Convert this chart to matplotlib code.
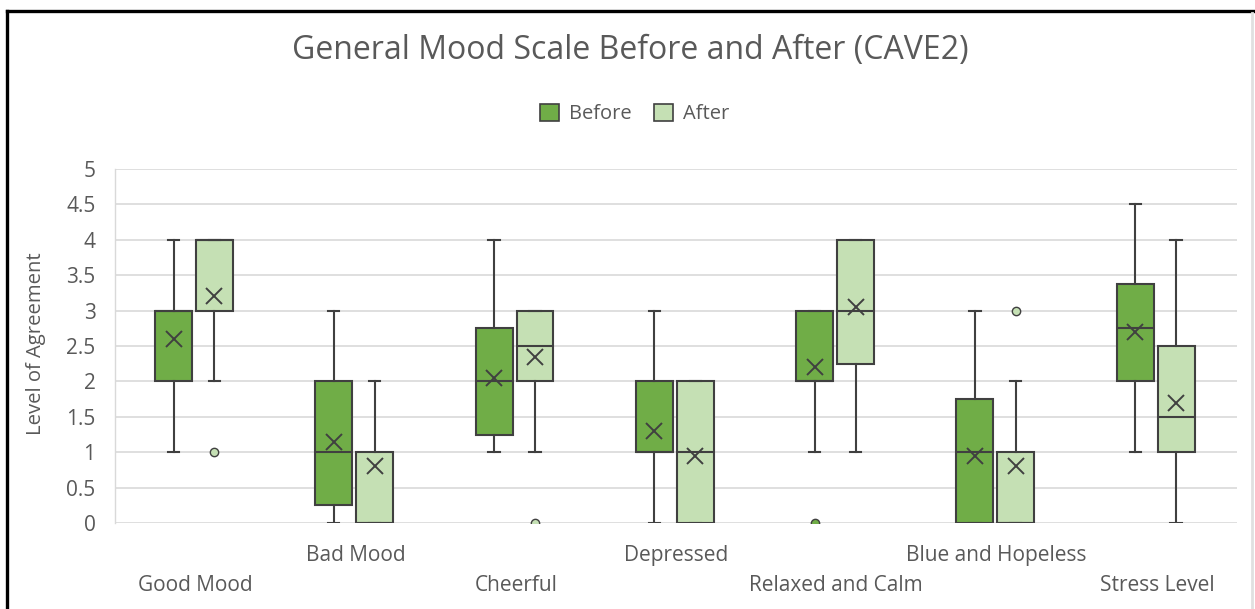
import matplotlib
matplotlib.use("Agg")
import matplotlib.pyplot as plt
from matplotlib.patches import Patch
from matplotlib.lines import Line2D

plt.rcParams['font.family'] = ['Open Sans', 'DejaVu Sans']

categories = ["Good Mood", "Bad Mood", "Cheerful", "Depressed",
              "Relaxed and Calm", "Blue and Hopeless", "Stress Level"]

before_min = [1, 0, 1, 0, 1, 0, 1]
before_q1 = [2, 0.25, 1.25, 1, 2, 0, 2]
before_med = [3, 1, 2, 1, 2, 1, 2.75]
before_q3 = [3, 2, 2.75, 2, 3, 1.75, 3.375]
before_max = [4, 3, 4, 3, 3, 3, 4.5]
before_mean = [2.6, 1.15, 2.05, 1.3, 2.2, 0.95, 2.7]
before_out = [[], [], [], [], [0], [], []]

after_min = [2, 0, 1, 0, 1, 0, 0]
after_q1 = [3, 0, 2, 0, 2.25, 0, 1]
after_med = [4, 0, 2.5, 1, 3, 0, 1.5]
after_q3 = [4, 1, 3, 2, 4, 1, 2.5]
after_max = [4, 2, 3, 2, 4, 2, 4]
after_mean = [3.2, 0.8, 2.35, 0.95, 3.05, 0.8, 1.7]
after_out = [[1], [], [0], [], [], [3], []]

yticks = [0, 0.5, 1, 1.5, 2, 2.5, 3, 3.5, 4, 4.5, 5]
ytick_labels = ["0", "0.5", "1", "1.5", "2", "2.5", "3", "3.5", "4", "4.5", "5"]

c_before = "#70AD47"
c_after = "#C5E0B4"
edge = "#404040"
txt = "#595959"
grid = "#D9D9D9"

W, H = 1255, 609
AX_L, AX_R, AX_T, AX_B = 115, 1237, 169, 523
fig = plt.figure(figsize=(W / 100, H / 100), dpi=100)
ax = fig.add_axes([AX_L / W, 1 - AX_B / H, (AX_R - AX_L) / W, (AX_B - AX_T) / H])


def stats(mins, q1s, meds, q3s, maxs, means, outs):
    res = []
    for i in range(len(mins)):
        res.append(dict(whislo=mins[i], q1=q1s[i], med=meds[i], q3=q3s[i],
                        whishi=maxs[i], mean=means[i], fliers=outs[i]))
    return res


def draw(st, offset, color):
    pos = [i + offset for i in range(len(st))]
    ax.bxp(st, positions=pos, widths=0.23, capwidths=0.07, patch_artist=True,
           showmeans=True, showfliers=True, manage_ticks=False,
           boxprops=dict(facecolor=color, edgecolor=edge, linewidth=1.5),
           medianprops=dict(color=edge, linewidth=1.5),
           whiskerprops=dict(color=edge, linewidth=1.5),
           capprops=dict(color=edge, linewidth=1.5),
           meanprops=dict(marker='x', markersize=11.5, markeredgecolor=edge,
                          markeredgewidth=1.4, markerfacecolor='none'),
           flierprops=dict(marker='o', markersize=6, markerfacecolor=color,
                           markeredgecolor=edge, markeredgewidth=1.0),
           zorder=3)


draw(stats(before_min, before_q1, before_med, before_q3, before_max, before_mean, before_out), -0.135, c_before)
draw(stats(after_min, after_q1, after_med, after_q3, after_max, after_mean, after_out), 0.12, c_after)

ax.set_xlim(-0.5, len(categories) - 0.5)
ax.set_ylim(0, 5)
ax.set_yticks(yticks)
ax.set_yticklabels(ytick_labels)
ax.yaxis.grid(True, color=grid, linewidth=1.2, zorder=0)
ax.set_axisbelow(True)

xlabels = [("\n" + c if i % 2 == 0 else c) for i, c in enumerate(categories)]
ax.set_xticks(range(len(categories)))
ax.set_xticklabels(xlabels, linespacing=1.55)
ax.tick_params(axis='x', length=0, pad=16, labelsize=15, labelcolor=txt)
ax.tick_params(axis='y', length=0, pad=14, labelsize=15, labelcolor=txt)

for s in ['top', 'right', 'bottom']:
    ax.spines[s].set_visible(False)
ax.spines['left'].set_color(grid)
ax.spines['left'].set_linewidth(1.0)

ax.set_ylabel("Level of Agreement", fontsize=14.6, color=txt)
ax.yaxis.set_label_coords((46 - AX_L) / (AX_R - AX_L), (AX_B - 344) / (AX_B - AX_T))

fig.text(630 / W, 1 - 50 / H, "General Mood Scale Before and After (CAVE2)",
         ha='center', va='center', fontsize=23, color=txt)

handles = [Patch(facecolor=c_before, edgecolor=edge, linewidth=1.2, label="Before"),
           Patch(facecolor=c_after, edgecolor=edge, linewidth=1.2, label="After")]
fig.legend(handles=handles, loc='center', bbox_to_anchor=(635 / W, 1 - 114 / H),
           ncol=2, frameon=False, fontsize=14.5, labelcolor=txt,
           handlelength=0.95, handleheight=0.95, handletextpad=0.5, columnspacing=1.1)

# outer frame
fig.add_artist(Line2D([7 / W, 1], [1 - 11 / H, 1 - 11 / H], color='black', linewidth=2.4,
                      transform=fig.transFigure))
fig.add_artist(Line2D([7 / W, 7 / W], [0, 1 - 11 / H], color='black', linewidth=2.4,
                      transform=fig.transFigure))
fig.add_artist(Line2D([1252 / W, 1252 / W], [0, 1 - 13 / H], color='#E0E0E0', linewidth=2,
                      transform=fig.transFigure))

fig.savefig("out.png", dpi=100)
